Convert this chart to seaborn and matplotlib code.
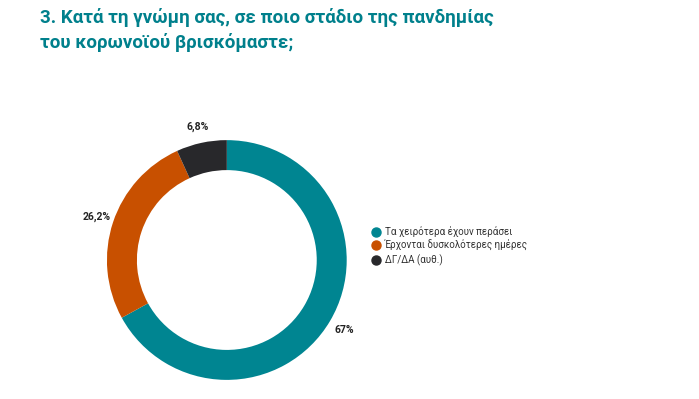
import seaborn as sns
import matplotlib.pyplot as plt
from matplotlib.lines import Line2D

# data
labels = ["Τα χειρότερα έχουν περάσει", "Έρχονται δυσκολότερες ημέρες", "ΔΓ/ΔΑ (αυθ.)"]
values = [67, 26.2, 6.8]
pct_labels = ["67%", "26,2%", "6,8%"]
colors = ["#008591", "#c85000", "#28282b"]

sns.set_theme(style="white")
plt.rcParams['font.family'] = ['Roboto', 'DejaVu Sans']

fig = plt.figure(figsize=(6.99, 3.99), dpi=100)

title_kw = dict(fontsize=13.5, fontweight='bold', color="#00808c", va='baseline')
fig.text(0.057, 0.942, "3. Κατά τη γνώμη σας, σε ποιο στάδιο της πανδημίας", **title_kw)
fig.text(0.057, 0.879, "του κορωνοϊού βρισκόμαστε;", **title_kw)

ax = fig.add_axes([0.153, 0.0476, 0.343, 0.6015])
wedges, texts = ax.pie(values, labels=pct_labels, colors=colors, startangle=90,
                       counterclock=False, labeldistance=1.14,
                       wedgeprops=dict(width=0.25, edgecolor='none'),
                       textprops=dict(fontsize=7.5, fontweight='bold', color="#222222"))
for t in texts:
    t.set_ha('center')
    t.set_va('center')
ax.set_xlim(-1, 1)
ax.set_ylim(-1, 1)
ax.set_aspect('equal')

handles = [Line2D([], [], marker='o', linestyle='none', markersize=6.5,
                  markerfacecolor=c, markeredgecolor=c) for c in colors]
fig.legend(handles, labels, loc='upper left', bbox_to_anchor=(0.52, 0.455),
           frameon=False, fontsize=7, handlelength=0.8,
           labelspacing=0.3, handletextpad=0.5, labelcolor="#333333")

fig.savefig("out.png", dpi=100)
